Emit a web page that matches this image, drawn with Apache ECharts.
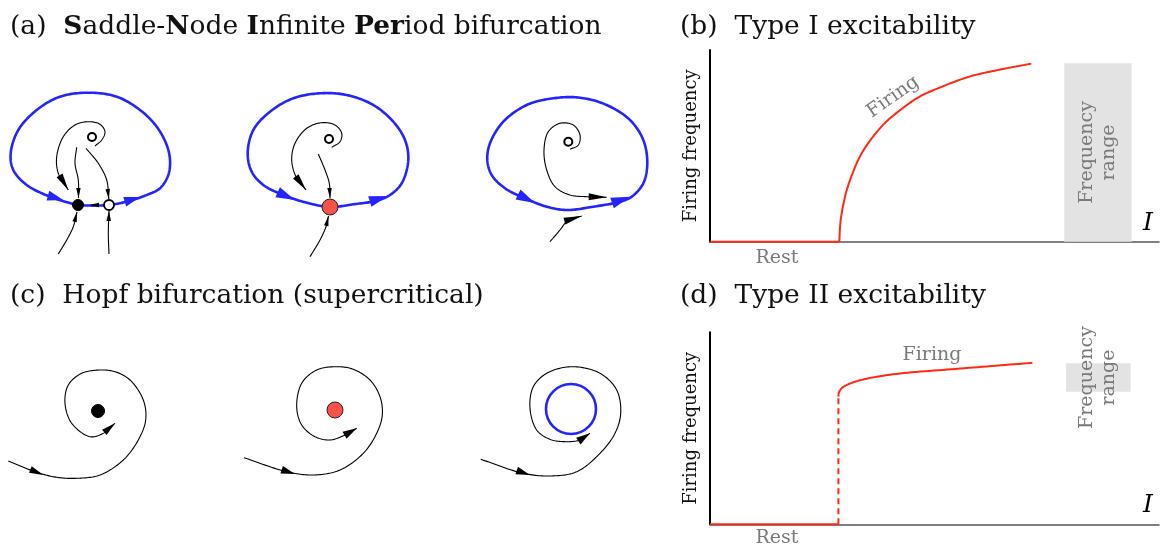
<!DOCTYPE html>
<html>
<head>
<meta charset="utf-8">
<script src="https://cdn.jsdelivr.net/npm/echarts@6/dist/echarts.min.js"></script>
<style>
  html, body { margin: 0; padding: 0; background: #fff; }
  #chart { width: 1161px; height: 548px; }
</style>
</head>
<body>
<div id="chart"></div>
<script>
// ===== (b) Type I excitability: firing frequency vs. injected current I =====
const restB   = [[0, 0], [28.8, 0]];
const firingB = [[28.8, 0], [29.02, 9.4], [29.47, 16.7], [30.36, 26.1], [31.47, 33.9], [33.25, 43.8],
                 [35.48, 52.2], [38.82, 61.6], [42.16, 68.3], [46.62, 75.6], [51.07, 80.3], [57.75, 86.1],
                 [64.44, 89.7], [71.56, 92.9]];
const rangeB  = [78.9, 93.9, 0, 93.1];        // [I from, I to, f from, f to]

// ===== (d) Type II excitability =====
const restD   = [[0, 0], [28.6, 0]];
const jumpD   = [[28.6, 0], [28.6, 66.5]];
const firingD = [[28.6, 66.5], [28.7, 68.5], [29.3, 70.8], [30.5, 72.6], [33.4, 75], [40.7, 78.1],
                 [55.7, 81.1], [71.8, 84.1]];
const rangeD  = [79.3, 93.7, 69, 83.9];

// ===== (a) SNIC phase portraits (local coordinates, equilibrium region at origin) =====
// before the bifurcation: stable node + saddle on the invariant circle
const a1Loop = [[-16, 0], [15, 0], [36, 4.3], [52.7, 10], [66, 16.7], [74.3, 30], [76, 45], [72.7, 60],
                [62.7, 78.3], [46, 95], [22.7, 108.3], [-5.7, 112.3], [-34, 108.3], [-57.3, 95], [-75.7, 75],
                [-83.3, 51.7], [-80.7, 35], [-67.3, 20], [-44, 8.3], [-20.7, 1], [-16, 0]];
const a1Flows = [
  [[1, 59], [7.7, 65], [11, 73.3], [6, 80.7], [-5.7, 83.3], [-19, 80], [-30.7, 68.3], [-37.3, 48.3], [-35.7, 31.7], [-25.7, 15]],
  [[-17.3, 57.7], [-19, 41.7], [-15.7, 25], [-15.5, 7]],
  [[-8, 56.7], [4.3, 41.7], [12.7, 25], [14.8, 6]],
  [[-35.7, -49], [-27.3, -35], [-20.7, -21.7], [-17, -7]],
  [[15, -49], [14.3, -28.3], [15, -6]]
];
const a1Node = [-16, 0];
const a1Saddle = [15, 0];
const a1Focus = [-2, 68];
const a1BlueArrows  = [[-30.7, 5, -50, 10.5], [46, 8, 30, 3]];            // [tipX, tipY, fromX, fromY]
const a1LargeArrows = [[-25.7, 15, -35.7, 31.7]];
const a1SmallArrows = [[-15.5, 7, -15.7, 25], [14.8, 6, 12.7, 25], [-17, -7, -20.7, -21.7],
                       [15, -6, 14.3, -28.3], [-5, 0, 6, 0]];

// at the bifurcation: saddle-node on the circle
const a2Loop = [[0, 0], [23.3, 2.7], [46.7, 6.3], [60, 12], [71.7, 23.7], [78.3, 47], [75, 67], [63.3, 85.3],
                [43.3, 102], [16.7, 112], [-10, 113.7], [-36.7, 108.7], [-60, 95.3], [-76.7, 77], [-82.3, 53.7],
                [-78.3, 35.3], [-66.7, 22], [-46.7, 12], [-23.3, 4.3], [0, 0]];
const a2Flows = [
  [[1.7, 59.7], [10, 65.3], [11.7, 73.7], [5, 82], [-8.3, 84.3], [-23.3, 78.7], [-35, 63.7], [-38.3, 47], [-34, 30.3], [-24, 17]],
  [[-11.7, 53], [-5, 37], [-0.7, 23.7], [0, 9]],
  [[-20, -49.7], [-10, -33], [-4, -19.7], [-1.5, -9]]
];
const a2Point = [0, 0];
const a2Focus = [-1, 68];
const a2BlueArrows  = [[-35, 7, -55, 16], [58, 11, 40, 5.5]];
const a2LargeArrows = [[-24, 17, -34, 30.3]];
const a2SmallArrows = [[0, 9, -0.7, 23.7], [-1.5, -9, -4, -19.7]];

// after the bifurcation: limit cycle
const a3Loop = [[-0.3, -3], [26.3, 0.3], [53, 5.3], [64.7, 10.3], [76.3, 23.7], [80.3, 43.7], [76.3, 67], [63, 87],
                [39.7, 102], [13, 109.3], [-13.7, 108.7], [-40.3, 102], [-63.7, 85.3], [-77, 63.7], [-79.7, 47],
                [-75.3, 32], [-62, 18.7], [-42, 8.7], [-20.3, 0.3], [-0.3, -3]];
const a3Flows = [
  [[3, 57.7], [11.3, 62], [13, 72], [6.3, 82], [-7, 83.7], [-18.7, 75.3], [-23, 57], [-20.3, 37], [-12, 20.3],
   [3, 12], [19.7, 10.3], [39.7, 9.7]],
  [[-17, -34.7], [-7, -23], [1.3, -13], [14.7, -9]]
];
const a3Focus = [1.3, 65.3];
const a3BlueArrows  = [[-32, 4, -50, 13], [63, 10.3, 45, 4]];
const a3LargeArrows = [[39.7, 9.7, 19.7, 10.3], [14.7, -9, 1.3, -13]];

// ===== (c) supercritical Hopf phase portraits =====
const c1Spiral = [[-89.7, -50], [-61.3, -61.3], [-41.3, -66.3], [-21.3, -67.3], [2, -64], [25.3, -49], [40.3, -29],
                  [47.7, -9], [45.3, 11], [32, 31], [17, 39.3], [2, 41], [-16.3, 37.7], [-29.7, 26], [-33, 7.7],
                  [-26.3, -12.3], [-8, -25.7], [5.3, -22.3], [17, -12.3]];
const c1Point = [0, 0];
const c1Arrows = [[-54.7, -64, -75, -55.5], [17, -12.3, 5.3, -22.3]];

const c2Spiral = [[-91, -47.7], [-48.3, -61.7], [-21.7, -65], [5, -60], [28.3, -43.3], [41.7, -23.3], [47.3, -5],
                  [45, 13.3], [35, 30], [18.3, 40.7], [1.7, 43.3], [-18.3, 40], [-33.3, 26.7], [-38.3, 3.3],
                  [-33.3, -15], [-20, -26.7], [-5, -30], [10, -25], [21.7, -18.3]];
const c2Point = [0, 0];
const c2Arrows = [[-40, -64, -65, -56], [21.7, -18.3, 10, -25]];

const c3Spiral = [[-90.3, -50.3], [-47.7, -64.3], [-21, -67], [5.7, -62.7], [29, -44.3], [44, -24.3], [49.7, -4.3],
                  [45.7, 19], [29, 35.7], [0.7, 42.3], [-24.3, 35.7], [-37.7, 22.3], [-41, 0.7], [-34.3, -21],
                  [-21, -30.3], [-4.3, -32.7], [9, -31], [19, -24.3]];
const c3Cycle = [0, 0, 25];                   // centre x, centre y, radius
const c3Arrows = [[-41, -66, -65, -58], [19, -24.3, 9, -31]];

// ---------------------------------------------------------------------------
const SERIF = 'DejaVu Serif';
const BLUE = '#2424ff';
const RED = '#ff2a12';
const DOT_RED = '#f8504a';
const GREY_TXT = '#7a7a7a';

// Phase-portrait panes: 1 data unit = 1 px, origin at (cx, cy)
const panes = [
  { c: [94, 205],  lo: -92, hi: 110, up: 130, down: 70 },
  { c: [330, 207], lo: -110, hi: 110, up: 130, down: 70 },
  { c: [567, 207], lo: -110, hi: 110, up: 130, down: 70 },
  { c: [98, 411],  lo: -96, hi: 110, up: 70, down: 80 },
  { c: [335, 410], lo: -110, hi: 110, up: 70, down: 80 },
  { c: [571, 409], lo: -110, hi: 110, up: 70, down: 80 }
];

const grids = panes.map(p => ({
  left: p.c[0] + p.lo, top: p.c[1] - p.up, width: p.hi - p.lo, height: p.up + p.down,
  show: false, containLabel: false, outerBoundsMode: 'none'
}));
const xAxes = panes.map((p, i) => ({ type: 'value', gridIndex: i, min: p.lo, max: p.hi, show: false }));
const yAxes = panes.map((p, i) => ({ type: 'value', gridIndex: i, min: -p.down, max: p.up, show: false }));

// firing-rate panes (b) and (d)
grids.push({ left: 710, top: 50, width: 449, height: 191.7, containLabel: false, outerBoundsMode: 'none' });
grids.push({ left: 710, top: 332.3, width: 449, height: 192, containLabel: false, outerBoundsMode: 'none' });
[6, 7].forEach(i => {
  xAxes.push({
    type: 'value', gridIndex: i, min: 0, max: 100,
    axisLine: { show: true, onZero: false, lineStyle: { color: '#555', width: 1.5 } },
    axisTick: { show: false }, axisLabel: { show: false }, splitLine: { show: false }
  });
  yAxes.push({
    type: 'value', gridIndex: i, min: 0, max: 100,
    name: 'Firing frequency', nameLocation: 'middle', nameGap: 10, nameRotate: 90,
    nameTextStyle: { fontFamily: SERIF, fontSize: 18, color: '#111' },
    axisLine: { show: true, onZero: false, lineStyle: { color: '#000', width: 2 } },
    axisTick: { show: false }, axisLabel: { show: false }, splitLine: { show: false }
  });
});

// Centripetal Catmull-Rom through the projected points, flattened to a polyline in pixel space.
function splinePixels(P, closed) {
  const n = P.length;
  const get = i => {
    if (closed) return P[(i + n) % n];
    if (i < 0) return [2 * P[0][0] - P[1][0], 2 * P[0][1] - P[1][1]];
    if (i >= n) return [2 * P[n - 1][0] - P[n - 2][0], 2 * P[n - 1][1] - P[n - 2][1]];
    return P[i];
  };
  const out = [P[0]];
  const segs = closed ? n : n - 1;
  for (let i = 0; i < segs; i++) {
    const p0 = get(i - 1), p1 = get(i), p2 = get(i + 1), p3 = get(i + 2);
    const d1 = Math.max(Math.hypot(p1[0] - p0[0], p1[1] - p0[1]), 1e-6);
    const d2 = Math.max(Math.hypot(p2[0] - p1[0], p2[1] - p1[1]), 1e-6);
    const d3 = Math.max(Math.hypot(p3[0] - p2[0], p3[1] - p2[1]), 1e-6);
    const a1 = Math.sqrt(d1), a2 = Math.sqrt(d2), a3 = Math.sqrt(d3);
    const b1 = [0, 1].map(k => (d1 * p2[k] - d2 * p0[k] + (2 * d1 + 3 * a1 * a2 + d2) * p1[k]) / (3 * a1 * (a1 + a2)));
    const b2 = [0, 1].map(k => (d3 * p1[k] - d2 * p3[k] + (2 * d3 + 3 * a3 * a2 + d2) * p2[k]) / (3 * a3 * (a3 + a2)));
    for (let s = 1; s <= 16; s++) {
      const t = s / 16, u = 1 - t;
      out.push([0, 1].map(k => u * u * u * p1[k] + 3 * u * u * t * b1[k] + 3 * u * t * t * b2[k] + t * t * t * p2[k]));
    }
  }
  return out;
}

function curve(pane, data, color, width, closed) {
  const pts = closed ? data.slice(0, -1) : data;
  return {
    type: 'custom', xAxisIndex: pane, yAxisIndex: pane, data: pts, encode: { x: 0, y: 1 },
    silent: true, animation: false, z: 3,
    renderItem: function (params, api) {
      if (params.dataIndex !== 0) return null;
      const px = pts.map(p => api.coord(p));
      return {
        type: 'polyline', shape: { points: splinePixels(px, closed) },
        style: { fill: null, stroke: color, lineWidth: width, lineJoin: 'round', lineCap: 'butt' }
      };
    }
  };
}

function straight(pane, data, color, width, dash) {
  return {
    type: 'line', xAxisIndex: pane, yAxisIndex: pane, data: data, symbol: 'none', silent: true,
    clip: false, animation: false, z: 5, lineStyle: { color: color, width: width, type: dash || 'solid' }
  };
}

function arrows(pane, data, len, wid, color) {
  return {
    type: 'custom', xAxisIndex: pane, yAxisIndex: pane, data: data, silent: true, animation: false,
    encode: { x: 0, y: 1 }, z: 4,
    renderItem: function (params, api) {
      const tip = api.coord([api.value(0), api.value(1)]);
      const from = api.coord([api.value(2), api.value(3)]);
      const dx = tip[0] - from[0], dy = tip[1] - from[1];
      const d = Math.hypot(dx, dy) || 1;
      const ux = dx / d, uy = dy / d;
      const bx = tip[0] - ux * len, by = tip[1] - uy * len;
      return {
        type: 'polygon',
        shape: { points: [tip, [bx - uy * wid / 2, by + ux * wid / 2], [bx + uy * wid / 2, by - ux * wid / 2]] },
        style: { fill: color }
      };
    }
  };
}

function dots(pane, data, size, fill, stroke, lw) {
  return {
    type: 'scatter', xAxisIndex: pane, yAxisIndex: pane, data: data, symbol: 'circle', symbolSize: size,
    silent: true, animation: false, clip: false, z: 5,
    itemStyle: { color: fill, borderColor: stroke, borderWidth: lw, opacity: 1 }
  };
}

function rangeBox(pane, box) {
  return {
    type: 'custom', xAxisIndex: pane, yAxisIndex: pane, data: [box], silent: true, animation: false, z: 1,
    encode: { x: 0, y: 2 },
    renderItem: function (params, api) {
      const p0 = api.coord([api.value(0), api.value(2)]);
      const p1 = api.coord([api.value(1), api.value(3)]);
      const x = p0[0], y = p1[1], w = p1[0] - p0[0], h = p0[1] - p1[1];
      return {
        type: 'group',
        children: [
          { type: 'rect', shape: { x: x, y: y, width: w, height: h }, style: { fill: '#e3e3e3' } },
          {
            type: 'text', x: x + w / 2, y: y + h / 2, rotation: Math.PI / 2,
            style: {
              text: 'Frequency\nrange', fill: GREY_TXT, font: '19px "' + SERIF + '"',
              align: 'center', verticalAlign: 'middle', lineHeight: 22
            }
          }
        ]
      };
    }
  };
}

function cycle(pane, c) {
  return {
    type: 'custom', xAxisIndex: pane, yAxisIndex: pane, data: [c], silent: true, animation: false,
    encode: { x: 0, y: 1 },
    renderItem: function (params, api) {
      const ctr = api.coord([api.value(0), api.value(1)]);
      const r = api.size([api.value(2), 0])[0];
      return { type: 'circle', shape: { cx: ctr[0], cy: ctr[1], r: r }, style: { fill: 'none', stroke: BLUE, lineWidth: 2.6 } };
    }
  };
}

const series = [];
// (a1)
series.push(curve(0, a1Loop, BLUE, 2.6, true));
a1Flows.forEach(f => series.push(curve(0, f, '#000', 1.1, false)));
series.push(arrows(0, a1BlueArrows, 16, 10, BLUE));
series.push(arrows(0, a1LargeArrows, 17, 7, '#000'));
series.push(arrows(0, a1SmallArrows, 10, 4.5, '#000'));
series.push(dots(0, [a1Node], 11, '#000', '#000', 1));
series.push(dots(0, [a1Saddle], 10, '#fff', '#000', 1.8));
series.push(dots(0, [a1Focus], 8, '#fff', '#000', 2));
// (a2)
series.push(curve(1, a2Loop, BLUE, 2.6, true));
a2Flows.forEach(f => series.push(curve(1, f, '#000', 1.1, false)));
series.push(arrows(1, a2BlueArrows, 19, 11, BLUE));
series.push(arrows(1, a2LargeArrows, 17, 7, '#000'));
series.push(arrows(1, a2SmallArrows, 10, 4.5, '#000'));
series.push(dots(1, [a2Point], 16, DOT_RED, '#222', 1));
series.push(dots(1, [a2Focus], 8, '#fff', '#000', 2));
// (a3)
series.push(curve(2, a3Loop, BLUE, 2.6, true));
a3Flows.forEach(f => series.push(curve(2, f, '#000', 1.1, false)));
series.push(arrows(2, a3BlueArrows, 19, 11, BLUE));
series.push(arrows(2, a3LargeArrows, 18, 7, '#000'));
series.push(dots(2, [a3Focus], 8, '#fff', '#000', 2));
// (c1)-(c3)
series.push(curve(3, c1Spiral, '#000', 1.1, false));
series.push(arrows(3, c1Arrows, 14, 7, '#000'));
series.push(dots(3, [c1Point], 13, '#000', '#000', 1));
series.push(curve(4, c2Spiral, '#000', 1.1, false));
series.push(arrows(4, c2Arrows, 14, 8, '#000'));
series.push(dots(4, [c2Point], 16, DOT_RED, '#222', 1));
series.push(curve(5, c3Spiral, '#000', 1.1, false));
series.push(arrows(5, c3Arrows, 14, 8, '#000'));
series.push(cycle(5, c3Cycle));
// (b)
series.push(rangeBox(6, rangeB));
series.push(straight(6, restB, RED, 2));
series.push(curve(6, firingB, RED, 2, false));
// (d)
series.push(rangeBox(7, rangeD));
series.push(straight(7, restD, RED, 2));
series.push(straight(7, jumpD, RED, 2, [6, 4]));
series.push(curve(7, firingD, RED, 2, false));

const headStyle = { fontFamily: SERIF, fontSize: 26.5, lineHeight: 30, color: '#111', fontWeight: 'normal' };
const boldRich = { b: { fontFamily: SERIF, fontSize: 26.5, lineHeight: 30, color: '#111', fontWeight: 'bold' } };

const option = {
  animation: false,
  backgroundColor: '#fff',
  title: [
    { text: '(a)  {b|S}addle-{b|N}ode {b|I}nfinite {b|Per}iod bifurcation', left: 10, top: 12, padding: 0,
      textStyle: Object.assign({}, headStyle, { rich: boldRich }) },
    { text: '(b)  Type I excitability', left: 680, top: 12, padding: 0, textStyle: headStyle },
    { text: '(c)  Hopf bifurcation (supercritical)', left: 10, top: 281, padding: 0, textStyle: headStyle },
    { text: '(d)  Type II excitability', left: 680, top: 281, padding: 0, textStyle: headStyle }
  ],
  grid: grids,
  xAxis: xAxes,
  yAxis: yAxes,
  series: series,
  graphic: [
    { type: 'text', x: 893, y: 97, rotation: 35 * Math.PI / 180,
      style: { text: 'Firing', fill: GREY_TXT, font: '19px "DejaVu Serif"', align: 'center', verticalAlign: 'middle' } },
    { type: 'text', x: 777, y: 258, style: { text: 'Rest', fill: GREY_TXT, font: '19px "DejaVu Serif"', align: 'center', verticalAlign: 'middle' } },
    { type: 'text', x: 1148, y: 223, style: { text: 'I', fill: '#000', font: 'italic 25px "DejaVu Serif"', align: 'center', verticalAlign: 'middle' } },
    { type: 'text', x: 932, y: 355, style: { text: 'Firing', fill: GREY_TXT, font: '19px "DejaVu Serif"', align: 'center', verticalAlign: 'middle' } },
    { type: 'text', x: 777, y: 538, style: { text: 'Rest', fill: GREY_TXT, font: '19px "DejaVu Serif"', align: 'center', verticalAlign: 'middle' } },
    { type: 'text', x: 1148, y: 505, style: { text: 'I', fill: '#000', font: 'italic 25px "DejaVu Serif"', align: 'center', verticalAlign: 'middle' } }
  ]
};

const chart = echarts.init(document.getElementById('chart'), null, { renderer: 'canvas' });
chart.setOption(option);
</script>
</body>
</html>
